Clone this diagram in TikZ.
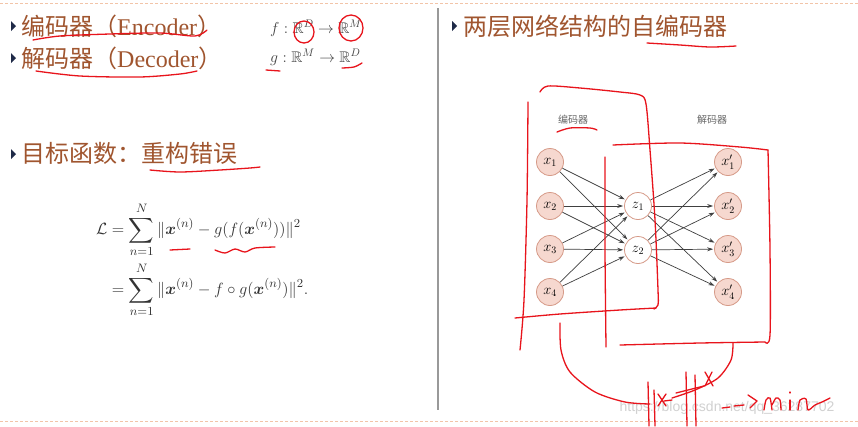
\documentclass[tikz,border=0pt]{standalone}
\usepackage{amsmath,amssymb}
\usepackage{fontspec}
\setmainfont{Liberation Serif}
\newfontfamily\cjk{Noto Sans CJK SC}
\newfontfamily\wmfont{Liberation Sans}
\usetikzlibrary{arrows.meta}
\definecolor{brownt}{HTML}{A0552F}
\definecolor{bul}{HTML}{1F2A48}
\definecolor{nodefill}{HTML}{F6D8CF}
\definecolor{nodedraw}{HTML}{D69A88}
\definecolor{dotc}{HTML}{F2C4A8}
\definecolor{inkred}{HTML}{E8141C}
\definecolor{mathgrey}{HTML}{444444}
\tikzset{
  head/.style={anchor=west, text=brownt, font=\fontsize{24}{28}\selectfont, inner sep=0pt},
  bulletmark/.style={fill=bul},
  mapping/.style={anchor=west, text=mathgrey, font=\fontsize{14}{16}\selectfont, inner sep=0pt},
  neuron/.style={circle, minimum size=27pt, inner sep=0pt, fill=nodefill, draw=nodedraw, line width=0.8pt, font=\fontsize{14}{16}\selectfont},
  hidden/.style={neuron, fill=white},
  conn/.style={-{Stealth[length=6pt,width=4pt]}, draw=black!75, line width=0.7pt, shorten >=1pt},
  small/.style={text=black!60, font=\cjk\fontsize{10}{12}\selectfont, inner sep=0pt},
  pen/.style={draw=inkred, line width=1.3pt, line cap=round, line join=round},
  dotline/.style={draw=dotc, line width=1pt, dash pattern=on 3pt off 2pt},
}
\begin{document}
\begin{tikzpicture}[x=1pt, y=-1pt]
\useasboundingbox (0,0) rectangle (858,426);
\fill[white] (0,0) rectangle (858,426);
% frame lines
\draw[dotline] (0,3) -- (858,3);
\draw[dotline] (0,421) -- (858,421);
\draw[draw=black!40, line width=1.2pt] (438,8) -- (438,410);

% left headings
\fill[bulletmark] (11,21) -- (16,26) -- (11,31) -- cycle;
\node[head] (enc) at (21,26) {{\cjk 编码器（}Encoder{\cjk ）}};
\fill[bulletmark] (11,53) -- (16,58) -- (11,63) -- cycle;
\node[head] (dec) at (21,58) {{\cjk 解码器（}Decoder{\cjk ）}};
\node[mapping] (fmap) at (270,28) {\scalebox{1.1}{$f:\mathbb{R}^D\rightarrow\mathbb{R}^M$}};
\node[mapping] (gmap) at (270,57) {\scalebox{1.1}{$g:\mathbb{R}^M\rightarrow\mathbb{R}^D$}};

\fill[bulletmark] (11,149) -- (16,154) -- (11,159) -- cycle;
\node[head] (obj) at (21,153) {{\cjk 目标函数：重构错误}};

\node[anchor=west, text=black!80, font=\fontsize{13}{16}\selectfont, inner sep=0pt] (loss) at (96,260)
{\scalebox{1.36}{$\displaystyle\begin{aligned}
\mathcal{L} &= \sum_{n=1}^{N} \|\boldsymbol{x}^{(n)} - g(f(\boldsymbol{x}^{(n)}))\|^2\\
&= \sum_{n=1}^{N} \|\boldsymbol{x}^{(n)} - f\circ g(\boldsymbol{x}^{(n)})\|^2.
\end{aligned}$}};

% right heading
\fill[bulletmark] (452,21) -- (457,26) -- (452,31) -- cycle;
\node[head] (title) at (463,26) {{\cjk 两层网络结构的自编码器}};

% network
\node[small] (lenc) at (573,120) {编码器};
\node[small] (ldec) at (712,120) {解码器};
\node[neuron] (x1) at (550,162) {$x_1$};
\node[neuron] (x2) at (550,206) {$x_2$};
\node[neuron] (x3) at (550,249) {$x_3$};
\node[neuron] (x4) at (550,292) {$x_4$};
\node[hidden] (z1) at (638,206) {$z_1$};
\node[hidden] (z2) at (638,250) {$z_2$};
\node[neuron] (y1) at (728,162) {$x'_1$};
\node[neuron] (y2) at (728,206) {$x'_2$};
\node[neuron] (y3) at (728,249) {$x'_3$};
\node[neuron] (y4) at (728,292) {$x'_4$};
\foreach \i in {1,...,4}{
  \foreach \j in {1,2}{
    \draw[conn] (x\i) -- (z\j);
    \draw[conn] (z\j) -- (y\i);
  }
}

% watermark
\node[text=black!18, font=\wmfont\fontsize{14}{16}\selectfont, inner sep=0pt] (wm) at (727,408) {https://blog.csdn.net/qq\_36287702};

% red annotations
\draw[pen] plot[smooth] coordinates {(33,40) (60,36) (110,34) (160,33) (195,36) (207,30)};
\draw[pen] plot[smooth] coordinates {(36,71) (80,76) (140,77) (180,74) (197,71)};
\draw[pen] (304,32) ellipse (10 and 11);
\draw[pen] (351,28) ellipse (12 and 13);
\draw[pen] (266,70) -- (280,71);
\draw[pen] plot[smooth] coordinates {(342,68) (354,67) (362,63)};
\draw[pen] plot[smooth] coordinates {(150,170) (180,172) (220,170) (250,168) (260,167)};
\draw[pen] (170,250) -- (190,249);
\draw[pen] plot[smooth] coordinates {(215,250) (225,253) (235,249) (245,252) (255,248) (275,247)};
\draw[pen] plot[smooth] coordinates {(647,43) (680,45) (710,47) (736,46)};
% encoder box
\draw[pen] plot[smooth] coordinates {(540,92) (548,86) (580,88) (620,92) (640,95) (646,104) (650,150) (655,220) (658,290) (658,305) (654,309)};
\draw[pen] plot[smooth] coordinates {(656,308) (620,310) (560,314) (515,318)};
\draw[pen] plot[smooth] coordinates {(528,102) (527,200) (524,300) (520,350)};
\draw[pen] plot[smooth] coordinates {(557,132) (570,128) (590,128) (597,130)};
% decoder box
\draw[pen] plot[smooth] coordinates {(605,157) (605,250) (606,347)};
\draw[pen] plot[smooth] coordinates {(613,145) (680,143) (740,147) (768,150)};
\draw[pen] plot[smooth] coordinates {(768,150) (770,250) (770,335) (765,342)};
\draw[pen] plot[smooth] coordinates {(765,342) (700,343) (620,345)};
% brace
\draw[pen] plot[smooth] coordinates {(560,323) (561,350) (570,372) (595,392) (625,402) (650,404)};
\draw[pen] plot[smooth] coordinates {(733,343) (731,360) (718,378) (695,390) (672,398)};
% handwriting
\draw[pen] (648,382) -- (649,426);
\draw[pen] (654,390) -- (655,426);
\draw[pen] (658,394) -- (666,406) (666,394) -- (658,406);
\draw[pen] (664,401) -- (672,400);
\draw[pen] (686,372) -- (687,426);
\draw[pen] (695,375) -- (696,426);
\draw[pen] (676,393) -- (704,386);
\draw[pen] (705,372) -- (713,386) (712,372) -- (705,386);
\draw[pen] (722,408) -- (730,407) (734,406) -- (744,405);
\draw[pen] (748,395) -- (757,401) -- (750,408);
\draw[pen] plot[smooth] coordinates {(764,410) (766,400) (770,398) (772,410)};
\draw[pen] plot[smooth] coordinates {(772,405) (776,398) (780,400) (781,410)};
\draw[pen] (790,400) -- (790,410);
\draw[pen] (790,392) -- (790,393);
\draw[pen] plot[smooth] coordinates {(798,410) (800,400) (806,399) (808,410) (815,405) (822,402) (830,398)};
\end{tikzpicture}
\end{document}
